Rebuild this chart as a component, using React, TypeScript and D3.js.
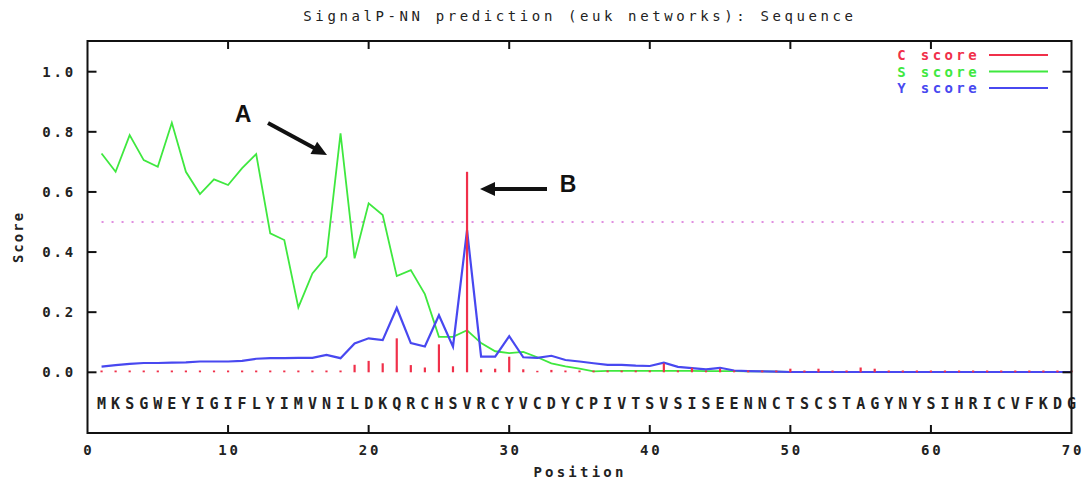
import React from "react";
import { scaleLinear, line } from "d3";

// SignalP-NN output: per-residue C, S and Y scores
const sequence = "MKSGWEYIGIFLYIMVNILDKQRCHSVRCYVCDYCPIVTSVSISEENNCTSCSTAGYNYSIHRICVFKDG";

const sScore = [
  0.728, 0.667, 0.789, 0.706, 0.684, 0.83, 0.667, 0.593, 0.642, 0.623,
  0.679, 0.726, 0.462, 0.44, 0.216, 0.329, 0.385, 0.795, 0.379, 0.562,
  0.523, 0.32, 0.34, 0.26, 0.118, 0.118, 0.14, 0.097, 0.07, 0.064,
  0.068, 0.05, 0.03, 0.02, 0.012, 0.003, 0.005, 0.005, 0.005, 0.005,
  0.005, 0.005, 0.005, 0.004, 0.004, 0.004, 0.003, 0.003, 0.002, 0.001,
];

const yScore = [
  0.019, 0.024, 0.028, 0.031, 0.031, 0.032, 0.033, 0.036, 0.036, 0.036,
  0.038, 0.045, 0.047, 0.047, 0.048, 0.048, 0.058, 0.047, 0.096, 0.113,
  0.107, 0.214, 0.097, 0.086, 0.19, 0.085, 0.473, 0.052, 0.052, 0.12,
  0.05, 0.048, 0.055, 0.041, 0.036, 0.03, 0.025, 0.025, 0.022, 0.021,
  0.032, 0.018, 0.014, 0.01, 0.015, 0.006, 0.004, 0.003, 0.002, 0.001,
  0.001, 0.001, 0.001, 0.001, 0.001, 0.001, 0.001, 0.001, 0.001, 0.001,
  0.001, 0.001, 0.001, 0.001, 0.001, 0.001, 0.001, 0.001, 0.001, 0.001,
];

const cScore = [
  0.006, 0.006, 0.006, 0.006, 0.006, 0.006, 0.006, 0.006, 0.006, 0.006,
  0.006, 0.006, 0.006, 0.006, 0.006, 0.006, 0.006, 0.006, 0.025, 0.038,
  0.03, 0.113, 0.024, 0.016, 0.093, 0.02, 0.667, 0.01, 0.012, 0.052,
  0.01, 0.005, 0.008, 0.006, 0.006, 0.006, 0.006, 0.006, 0.006, 0.006,
  0.03, 0.006, 0.015, 0.006, 0.012, 0.006, 0.006, 0.006, 0.006, 0.012,
  0.006, 0.012, 0.006, 0.006, 0.016, 0.012, 0.006, 0.006, 0.006, 0.006,
  0.006, 0.006, 0.006, 0.006, 0.006, 0.006, 0.006, 0.006, 0.006, 0.006,
];

const yTicks = [0, 0.2, 0.4, 0.6, 0.8, 1.0];
const xTicks = [0, 10, 20, 30, 40, 50, 60, 70];
const threshold = 0.5;

const legend = [
  { label: "C score", color: "#f0304a" },
  { label: "S score", color: "#3fe83f" },
  { label: "Y score", color: "#4848f0" },
];

const mono = "'DejaVu Sans Mono', monospace";

function Arrow({ x1, y1, x2, y2 }: { x1: number; y1: number; x2: number; y2: number }) {
  const dx = x2 - x1, dy = y2 - y1;
  const len = Math.hypot(dx, dy);
  const ux = dx / len, uy = dy / len;
  const L = 15, W = 7;
  const bx = x2 - ux * L, by = y2 - uy * L;
  const pts = [
    [x2, y2],
    [bx - uy * W, by + ux * W],
    [bx + uy * W, by - ux * W],
  ];
  return (
    <g>
      <line x1={x1} y1={y1} x2={bx + ux * 2} y2={by + uy * 2} stroke="#111" strokeWidth={4} />
      <polygon points={pts.map((p) => p.join(",")).join(" ")} fill="#111" />
    </g>
  );
}

export default function App() {
  const x = scaleLinear().domain([0, 70]).range([87.5, 1071.5]);
  const y = scaleLinear().domain([0, 1]).range([372.3, 71.7]);
  const top = 41;
  const bottom = 433;

  const path = line<number>()
    .x((_, i) => x(i + 1))
    .y((d) => y(d));

  return (
    <svg
      width={1083}
      height={485}
      style={{ position: "absolute", left: 0, top: 0, background: "#fff" }}
    >
      <rect width={1083} height={485} fill="#fff" />

      <text
        x={580}
        y={21}
        textAnchor="middle"
        fontFamily={mono}
        fontSize={14}
        letterSpacing={3.6}
        fill="#222"
      >
        SignalP-NN prediction (euk networks): Sequence
      </text>

      {/* threshold */}
      <line
        x1={x(1)}
        x2={x(70)}
        y1={y(threshold)}
        y2={y(threshold)}
        stroke="#e08ee0"
        strokeWidth={2}
        strokeDasharray="2,8"
      />

      {/* S score */}
      <path d={path(sScore) ?? ""} fill="none" stroke="#3fe83f" strokeWidth={1.8} />
      {/* Y score */}
      <path d={path(yScore) ?? ""} fill="none" stroke="#4848f0" strokeWidth={2.2} />
      {/* C score */}
      {cScore.map((v, i) => (
        <line
          key={i}
          x1={x(i + 1)}
          x2={x(i + 1)}
          y1={y(0)}
          y2={y(v)}
          stroke="#f0304a"
          strokeWidth={2.2}
        />
      ))}

      {/* sequence */}
      {sequence.split("").map((c, i) => (
        <text
          key={i}
          x={x(i + 1)}
          y={409}
          textAnchor="middle"
          fontFamily={mono}
          fontWeight="bold"
          fontSize={15}
          fill="#222"
        >
          {c}
        </text>
      ))}

      {/* frame */}
      <rect
        x={x(0)}
        y={top}
        width={x(70) - x(0)}
        height={bottom - top}
        fill="none"
        stroke="#111"
        strokeWidth={2}
      />
      {xTicks.slice(1, -1).map((t) => (
        <g key={t}>
          <line x1={x(t)} x2={x(t)} y1={top} y2={top + 8} stroke="#111" strokeWidth={2} />
          <line x1={x(t)} x2={x(t)} y1={bottom} y2={bottom - 8} stroke="#111" strokeWidth={2} />
        </g>
      ))}
      {yTicks.map((t) => (
        <g key={t}>
          <line x1={x(0)} x2={x(0) + 9} y1={y(t)} y2={y(t)} stroke="#111" strokeWidth={2} />
          <line x1={x(70)} x2={x(70) - 9} y1={y(t)} y2={y(t)} stroke="#111" strokeWidth={2} />
          <text
            x={76}
            y={y(t) + 5}
            textAnchor="end"
            fontFamily={mono}
            fontWeight="bold"
            fontSize={14}
            letterSpacing={2.8}
            fill="#222"
          >
            {t.toFixed(1)}
          </text>
        </g>
      ))}
      {xTicks.map((t) => (
        <text
          key={t}
          x={x(t) + 1.4}
          y={455}
          textAnchor="middle"
          fontFamily={mono}
          fontWeight="bold"
          fontSize={14}
          letterSpacing={2.8}
          fill="#222"
        >
          {t}
        </text>
      ))}

      <text
        x={580}
        y={477}
        textAnchor="middle"
        fontFamily={mono}
        fontWeight="bold"
        fontSize={14}
        letterSpacing={3.2}
        fill="#222"
      >
        Position
      </text>
      <text
        transform="translate(23,237) rotate(-90)"
        textAnchor="middle"
        fontFamily={mono}
        fontWeight="bold"
        fontSize={14}
        letterSpacing={2}
        fill="#222"
      >
        Score
      </text>

      {/* legend */}
      {legend.map((l, i) => (
        <g key={l.label}>
          <text
            x={980}
            y={60 + i * 16.5}
            textAnchor="end"
            fontFamily={mono}
            fontWeight="bold"
            fontSize={14}
            letterSpacing={3.4}
            fill={l.color}
          >
            {l.label}
          </text>
          <line
            x1={989}
            x2={1048}
            y1={55 + i * 16.5}
            y2={55 + i * 16.5}
            stroke={l.color}
            strokeWidth={2}
          />
        </g>
      ))}

      {/* annotations */}
      <text
        x={243}
        y={122}
        textAnchor="middle"
        fontFamily="'Liberation Sans', Arial, sans-serif"
        fontWeight="bold"
        fontSize={23}
        fill="#111"
      >
        A
      </text>
      <Arrow x1={268} y1={123} x2={327} y2={155} />
      <text
        x={568}
        y={192}
        textAnchor="middle"
        fontFamily="'Liberation Sans', Arial, sans-serif"
        fontWeight="bold"
        fontSize={23}
        fill="#111"
      >
        B
      </text>
      <Arrow x1={547} y1={189} x2={480} y2={189} />
    </svg>
  );
}
